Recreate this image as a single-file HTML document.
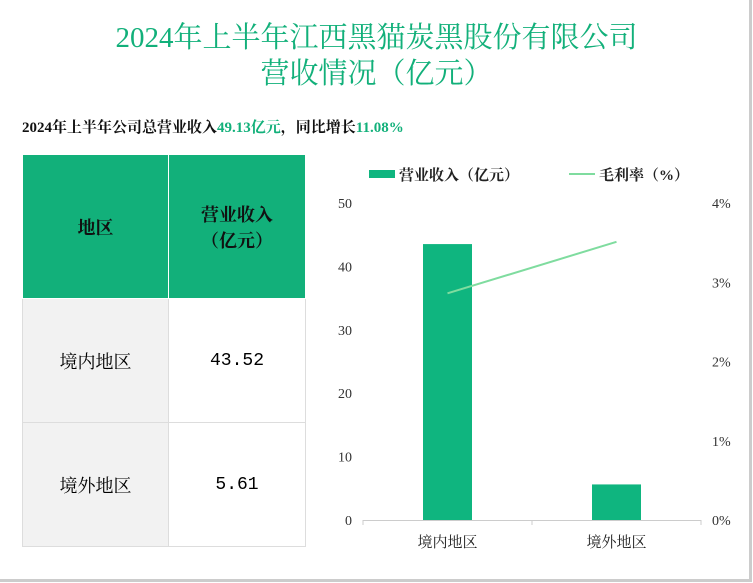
<!DOCTYPE html>
<html><head><meta charset="utf-8"><style>
body{margin:0;width:753px;height:583px;background:#fff;position:relative;overflow:hidden;font-family:"Liberation Serif","Noto Serif CJK SC",serif;}
.frame{position:absolute;left:0;top:0;width:749px;height:579px;border-right:3px solid #ccc;border-bottom:3px solid #ccc;}
.title{position:absolute;left:0;width:753px;text-align:center;color:#12b07a;font-size:29px;line-height:36px;top:20px;}
.sub{position:absolute;left:22px;top:116px;font-size:15px;font-weight:bold;color:#111;}
.sub span{color:#12b07a;}
table{position:absolute;left:22px;top:154px;border-collapse:collapse;width:284px;font-size:18px;}
td{text-align:center;border:1px solid #ddd;padding:0;}
.h td{background:#12b07a;color:#111;font-weight:bold;height:143px;border-color:#fff;}
.r td{height:123px;background:#fff;}
.r td:first-child{background:#f2f2f2;}
</style></head><body>
<div class="frame"></div>
<div class="title">2024年上半年江西黑猫炭黑股份有限公司<br>营收情况（亿元）</div>
<div class="sub">2024年上半年公司总营业收入<span>49.13亿元</span>，同比增长<span>11.08%</span></div>
<table>
<tr class="h"><td style="width:145px">地区</td><td>营业收入<br>（亿元）</td></tr>
<tr class="r"><td>境内地区</td><td style="font-family:'Liberation Mono',monospace">43.52</td></tr>
<tr class="r"><td>境外地区</td><td style="font-family:'Liberation Mono',monospace">5.61</td></tr>
</table>
<svg id="c" width="753" height="583" style="position:absolute;left:0;top:0"></svg>
<script>
const categories=["境内地区","境外地区"];
const revenue=[43.52,5.61];
const margin=[2.86,3.51];
const leftTicks=[0,10,20,30,40,50];
const rightTicks=[0,1,2,3,4];
const svg=document.getElementById('c');const NS='http://www.w3.org/2000/svg';
function mk(t,a,txt){const e=document.createElementNS(NS,t);for(const k in a)e.setAttribute(k,a[k]);if(txt!==undefined)e.textContent=txt;svg.appendChild(e);return e;}
const x0=363,x1=701,yb=520,yt=203;
const yL=v=>yb-(v/50)*(yb-yt);const yR=v=>yb-(v/4)*(yb-yt);
const band=(x1-x0)/categories.length;const cx=i=>x0+band*(i+0.5);
leftTicks.forEach(t=>{const e=mk('text',{x:352,y:yL(t)+5,'text-anchor':'end','font-size':14,fill:'#333'},t);});
rightTicks.forEach(t=>{const e=mk('text',{x:712,y:yR(t)+5,'font-size':14,fill:'#333'},t+'%');});
revenue.forEach((v,i)=>{const e=mk('rect',{x:cx(i)-24.5,y:yL(v),width:49,height:yb-yL(v),fill:'#0fb57f'});});
const ax=mk('line',{x1:x0,y1:yb+0.5,x2:x1,y2:yb+0.5,stroke:'#ccc'});
for(let i=0;i<=categories.length;i++){mk('line',{x1:x0+band*i,y1:yb,x2:x0+band*i,y2:yb+5,stroke:'#ccc'});}
categories.forEach((c,i)=>{const e=mk('text',{x:cx(i),y:yb+27,'text-anchor':'middle','font-size':15,fill:'#222'},c);});
const pl=mk('polyline',{points:margin.map((v,i)=>cx(i)+','+yR(v)).join(' '),fill:'none',stroke:'#7fdc9f','stroke-width':2});

const l1=mk('rect',{x:369,y:170,width:26,height:8,fill:'#0fb57f'});
const t1=mk('text',{x:399,y:180,'font-size':15,'font-weight':'bold',fill:'#222'},'营业收入（亿元）');
const l2=mk('line',{x1:569,y1:174,x2:595,y2:174,stroke:'#7fdc9f','stroke-width':2});
const t2=mk('text',{x:599,y:180,'font-size':15,'font-weight':'bold',fill:'#222'},'毛利率（%）');
</script>
</body></html>
